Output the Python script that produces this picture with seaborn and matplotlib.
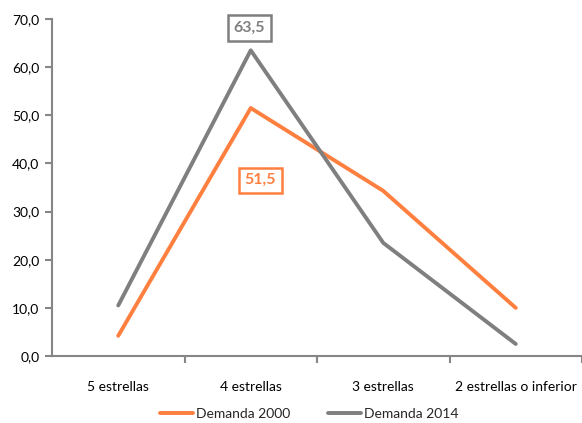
import matplotlib
matplotlib.use("Agg")
import matplotlib.pyplot as plt
import seaborn as sns
import pandas as pd
from matplotlib.ticker import FixedLocator, FuncFormatter

categories = ["5 estrellas", "4 estrellas", "3 estrellas", "2 estrellas o inferior"]
demanda_2000 = [4.2, 51.5, 34.3, 10.0]
demanda_2014 = [10.5, 63.5, 23.5, 2.5]
series_names = ["Demanda 2000", "Demanda 2014"]
colors = ["#FF7F3F", "#7F7F7F"]

rows = []
for name, vals in zip(series_names, [demanda_2000, demanda_2014]):
    for c, v in zip(categories, vals):
        rows.append({"cat": c, "val": v, "serie": name})
df = pd.DataFrame(rows)

sns.set_theme(style="white")
plt.rcParams["font.family"] = ["Lato", "DejaVu Sans"]

fig = plt.figure(figsize=(5.82, 4.23), dpi=100)
ax = fig.add_axes([52 / 582, 1 - 356 / 423, (582 - 52) / 582, (356 - 19) / 423])

sns.lineplot(data=df, x="cat", y="val", hue="serie", palette=colors,
             linewidth=2.8, ax=ax, sort=False)

ax.set_xlim(-0.5, 3.5)
ax.set_ylim(0, 70)
ax.set_xlabel("")
ax.set_ylabel("")
ax.set_yticks(range(0, 71, 10))
ax.yaxis.set_major_formatter(FuncFormatter(lambda v, p: f"{v:.1f}".replace(".", ",")))
ax.set_xticks(range(len(categories)))
ax.set_xticklabels(categories)
ax.xaxis.set_minor_locator(FixedLocator([0.5, 1.5, 2.5, 3.5]))

for s in ["top", "right"]:
    ax.spines[s].set_visible(False)
for s in ["left", "bottom"]:
    ax.spines[s].set_color("#868686")
    ax.spines[s].set_linewidth(1.5)

ax.tick_params(axis="y", which="major", left=True, length=5, width=1.5,
               color="#868686", labelsize=10, labelcolor="#000000", pad=4)
ax.tick_params(axis="x", which="major", bottom=False, labelsize=10,
               labelcolor="#000000", pad=12)
ax.tick_params(axis="x", which="minor", bottom=True, length=5, width=1.5,
               color="#868686")

# data labels
ax.annotate(f"{demanda_2014[1]:.1f}".replace(".", ","), xy=(1, demanda_2014[1]),
            xytext=(-1, 16), textcoords="offset points", ha="center", va="center",
            fontsize=11.5, fontweight="bold", color="#7F7F7F",
            bbox=dict(boxstyle="square,pad=0.35", fc="white", ec="#7F7F7F", lw=1.8))
ax.annotate(f"{demanda_2000[1]:.1f}".replace(".", ","), xy=(1, demanda_2000[1]),
            xytext=(7, -52), textcoords="offset points", ha="center", va="center",
            fontsize=11.5, fontweight="bold", color="#FF7F3F",
            bbox=dict(boxstyle="square,pad=0.35", fc="white", ec="#FF7F3F", lw=1.8))

leg = ax.legend(loc="upper center", bbox_to_anchor=(0.485, -0.118), ncol=2,
                frameon=False, fontsize=10, handlelength=2.4, handletextpad=0.2,
                columnspacing=2.7)
for line in leg.get_lines():
    line.set_linewidth(2.8)

fig.savefig("out.png", dpi=100)
